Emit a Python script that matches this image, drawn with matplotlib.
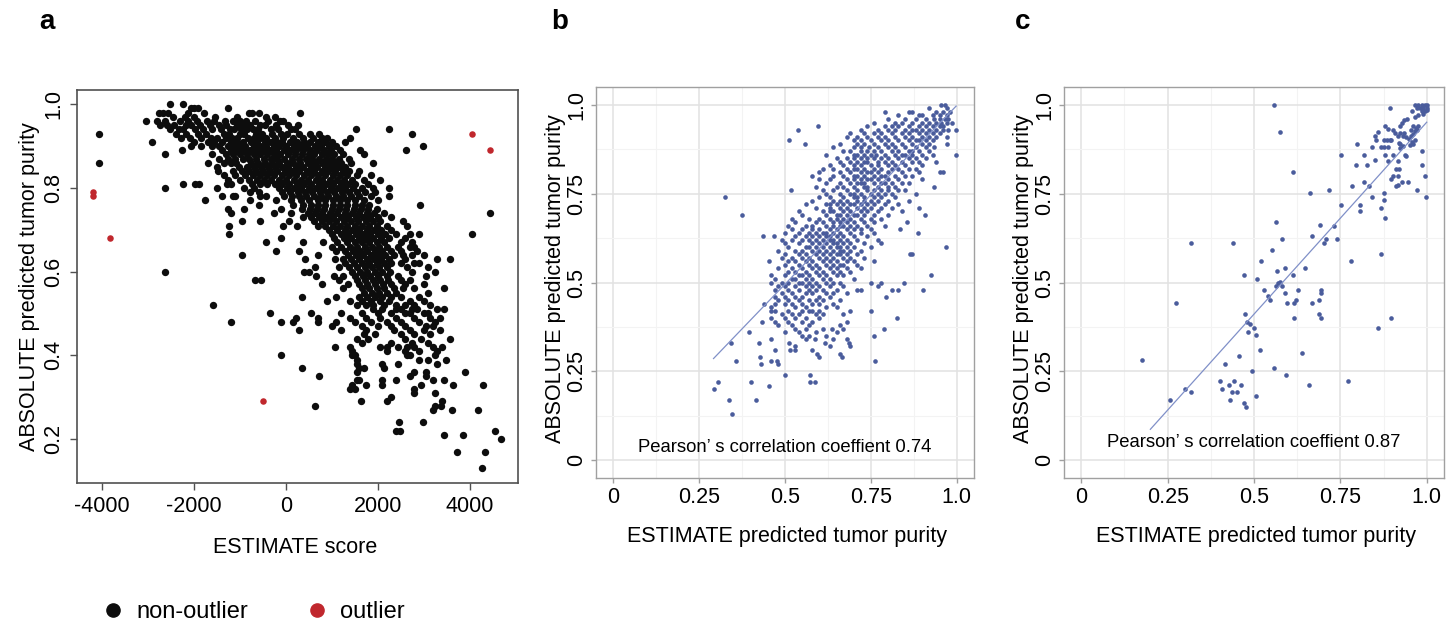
import matplotlib
matplotlib.use('Agg')
import matplotlib.pyplot as plt
from matplotlib.lines import Line2D

plt.rcParams['font.family'] = ['Liberation Sans', 'DejaVu Sans']
plt.rcParams['axes.unicode_minus'] = False

# ---- panel a: ESTIMATE score vs ABSOLUTE purity (one row per purity level)
a_rows = [
    (1.00, [-2510, -2240]),
    (0.99, [-2060, -1990, -1900, -1250]),
    (0.98, [-2750, -2680, -2560, -2120, -1780, -800, -740, -580, 320]),
    (0.97, [-2450, -2200, -1990, -1530, -1060, -430, -240]),
    (0.96, [-3030, -2800, -2620, -2300, -2120, -1920, -1720, -1550, -1330, -1150, -990, -860, -660, -380, -130, -60]),
    (0.95, [-2740, -2590, -2420, -2180, -2050, -1860, -1650, -1460, -1290, -1050, -930, -770, -560, -450, -210, 60, 270]),
    (0.94, [-2520, -2330, -2230, -1970, -1800, -1600, -1400, -1220, -1120, -980, -840, -720, -600, -320, -170, 120, 200, 1540, 2250]),
    (0.93, [-4070, -2380, -2160, -1900, -1740, -1350, -1230, -1000, -900, -640, -520, -300, -100, 30, 290, 530, 720, 2745]),
    (0.92, [-2270, -2090, -1850, -1620, -1490, -1300, -1170, -1050, -820, -690, -550, -420, -230, -50, 150, 380, 600, 780, 900, 1400]),
    (0.91, [-2905, -1990, -1700, -1560, -1380, -1200, -1060, -930, -750, -620, -450, -330, -180, -80, 100, 250, 400, 520, 700, 850, 1000, 1300]),
    (0.90, [-2070, -1850, -1600, -1450, -1250, -1100, -980, -880, -700, -560, -420, -260, -150, 10, 180, 320, 460, 640, 760, 940, 1100, 2980]),
    (0.89, [-2260, -1380, -1200, -1050, -900, -780, -620, -480, -350, -200, -40, 100, 230, 380, 520, 680, 830, 990, 1180, 1620, 2610]),
    (0.88, [-2620, -1600, -1300, -1150, -1000, -850, -700, -560, -400, -260, -120, 40, 200, 350, 500, 610, 780, 920, 1050, 1250, 1700]),
    (0.87, [-1450, -1250, -1100, -930, -800, -640, -480, -330, -180, -30, 130, 280, 450, 580, 730, 880, 1000, 1150, 1380]),
    (0.86, [-4070, -1700, -1350, -1200, -1080, -760, -610, -460, -300, -150, 20, 160, 320, 480, 640, 790, 950, 1100, 1200, 1420, 1900]),
    (0.85, [-1500, -1020, -850, -690, -540, -380, -240, -90, 60, 220, 380, 540, 690, 850, 1010, 1160, 1300]),
    (0.84, [-1480, -1150, -960, -800, -650, -500, -340, -180, -20, 140, 300, 460, 620, 780, 930, 1080, 1250, 1380, 1600]),
    (0.83, [-1350, -1100, -880, -720, -560, -400, -250, -90, 70, 230, 390, 550, 700, 860, 1020, 1180, 1330, 1550, 1850]),
    (0.82, [-1250, -1000, -800, -620, -470, -310, -150, 0, 170, 330, 490, 650, 800, 960, 1110, 1260, 1450, 1700, 2050]),
    (0.81, [-2240, -1965, -1880, -1270, -1180, -740, -560, -400, -240, -80, 80, 240, 400, 560, 720, 880, 1040, 1200, 1350, 1500, 1800]),
    (0.80, [-2620, -1500, -900, -700, -150, 20, 180, 340, 500, 660, 820, 980, 1140, 1300, 1460, 1650, 1900, 2250]),
    (0.79, [-780, -580, -90, 100, 260, 420, 580, 740, 900, 1060, 1220, 1380, 1560, 1720, 1950]),
    (0.78, [-1390, -1150, -1100, -550, -420, -40, 130, 290, 450, 610, 770, 930, 1090, 1250, 1420, 1600, 1850, 2250]),
    (0.77, [-1760, -780, -220, 120, 330, 500, 700, 860, 1020, 1180, 1340, 1500, 1700, 2000]),
    (0.76, [-580, 160, 380, 540, 700, 860, 1020, 1180, 1340, 1500, 1660, 1820, 2925]),
    (0.75, [-1250, -900, -100, 350, 520, 680, 840, 1000, 1160, 1320, 1480, 1640, 1800, 1980]),
    (0.74, [-1200, -250, 120, 480, 640, 800, 960, 1120, 1280, 1440, 1600, 1760, 1920, 2150, 4455]),
    (0.73, [380, 550, 720, 880, 1040, 1200, 1360, 1520, 1680, 1840, 2000, 2300]),
    (0.72, [-940, -560, 80, 620, 780, 940, 1100, 1260, 1420, 1580, 1740, 1900, 2050, 2550]),
    (0.71, [-1230, -50, 250, 700, 860, 1020, 1180, 1340, 1500, 1660, 1820, 1980, 2200, 2650]),
    (0.70, [950, 1120, 1280, 1440, 1600, 1760, 1920, 2080, 2300]),
    (0.69, [-1230, 1000, 1200, 1360, 1520, 1680, 1840, 2000, 2160, 2400, 2700, 2900, 4050]),
    (0.68, [-110, 1050, 1270, 1430, 1590, 1750, 1910, 2070, 2250, 2600]),
    (0.67, [-430, 380, 820, 1120, 1340, 1500, 1660, 1820, 1980, 2140, 2500, 2750]),
    (0.66, [1000, 1200, 1400, 1560, 1720, 1880, 2040, 2200, 2450, 2700, 2800]),
    (0.65, [-200, 300, 1100, 1300, 1460, 1620, 1780, 1940, 2100, 2300, 2500, 2850]),
    (0.64, [-940, 700, 1350, 1530, 1690, 1850, 2010, 2170, 2350, 2550, 2750, 3000]),
    (0.63, [420, 1080, 1250, 1420, 1600, 1760, 1920, 2080, 2240, 2600, 3300, 3565]),
    (0.62, [1300, 1480, 1660, 1820, 1980, 2140, 2300, 2500, 2800, 2900]),
    (0.61, [630, 1150, 1380, 1560, 1720, 1880, 2040, 2200, 2650, 3100]),
    (0.60, [-2620, 400, 500, 1440, 1620, 1780, 1940, 2100, 2280, 2750, 3250]),
    (0.59, [650, 1050, 1250, 1500, 1680, 1840, 2000, 2200, 2450, 3050]),
    (0.58, [-670, -535, 1150, 1550, 1730, 1890, 2050, 2230, 2500, 2700]),
    (0.57, [800, 1350, 1600, 1780, 1950, 2120, 2300, 2600, 3000]),
    (0.56, [1250, 1650, 1820, 1990, 2150, 2350, 2550, 2800, 3450]),
    (0.55, [1700, 1870, 2040, 2200, 2400, 3100]),
    (0.54, [360, 1100, 1600, 1780, 1950, 2100, 2300, 2500, 2900]),
    (0.53, [900, 1400, 1650, 1850, 2050, 2250, 2700, 3000]),
    (0.52, [-1585, 1550, 1750, 1900, 2150, 2400, 2600, 2800, 3150]),
    (0.51, [1900, 2100, 2400, 2500, 2750, 2850, 3300, 3450]),
    (0.50, [-350, 560, 1200, 1650, 2000, 2300, 2600, 2700, 3000, 3100]),
    (0.49, [235, 700, 1400, 1750, 2050, 2400, 2800, 3150, 3350]),
    (0.48, [-1190, -110, 155, 700, 1100, 1500, 1850, 2200, 2500, 2900, 3250]),
    (0.47, [1000, 1650, 2000, 2300, 2600, 3050, 3200]),
    (0.46, [285, 1200, 1750, 2350, 2700, 3000, 3350]),
    (0.45, [1700, 1950, 2500, 2800, 3150]),
    (0.44, [1550, 1800, 2600, 2950, 3565]),
    (0.43, [1650, 2300, 2750, 3100]),
    (0.42, [1080, 1400, 2050, 2200, 2450, 2650, 2800, 3200, 3400]),
    (0.41, [1450, 2200, 2600, 2900, 3300]),
    (0.40, [-110, 1450, 1500, 2650, 2700, 3250]),
    (0.39, [1550, 2900, 3100, 3480]),
    (0.38, [1550, 2100, 2450, 3300]),
    (0.37, [360, 1600, 1700, 2150]),
    (0.36, [1550, 2800, 3050, 3905]),
    (0.35, [735, 2700, 3050]),
    (0.34, [1550, 1600, 2100, 2400, 3200, 3450]),
    (0.33, [1450, 1750, 2100, 2950, 3650, 4300]),
    (0.32, [1400, 1500, 2800]),
    (0.31, [2800, 3250]),
    (0.30, [2290]),
    (0.29, [1645, 2215, 3400]),
    (0.28, [640, 3240, 3390]),
    (0.27, [3200, 3610, 4195]),
    (0.24, [2460, 2995]),
    (0.22, [2390, 2480, 4565]),
    (0.21, [3450, 3860]),
    (0.20, [4695]),
    (0.17, [3735, 4345]),
    (0.13, [4270]),
]
a_out_score = [-4200, -4200, -3815, -485, 4050, 4455]
a_out_purity = [0.79, 0.78, 0.68, 0.29, 0.93, 0.89]

# ---- panel b: ESTIMATE purity vs ABSOLUTE purity (rows by ABSOLUTE purity)
b_rows = [
    (1.00, [0.955, 0.965]),
    (0.99, [0.92, 0.97]),
    (0.98, [0.79, 0.86, 0.87, 0.94, 0.96, 0.98]),
    (0.97, [0.83, 0.89, 0.90, 0.93, 0.95, 0.97]),
    (0.96, [0.80, 0.85, 0.88, 0.91, 0.935, 0.95, 0.965, 0.975]),
    (0.95, [0.76, 0.82, 0.84, 0.87, 0.90, 0.92, 0.94, 0.955, 0.97, 0.985]),
    (0.94, [0.597, 0.74, 0.79, 0.81, 0.83, 0.86, 0.89, 0.91, 0.93, 0.95, 0.96]),
    (0.93, [0.539, 0.72, 0.77, 0.80, 0.82, 0.85, 0.87, 0.88, 0.90, 0.92, 0.94, 0.96, 0.975, 0.998]),
    (0.92, [0.69, 0.73, 0.76, 0.78, 0.81, 0.84, 0.86, 0.89, 0.91, 0.93, 0.95]),
    (0.91, [0.68, 0.71, 0.74, 0.77, 0.79, 0.82, 0.85, 0.87, 0.90, 0.92, 0.94, 0.97]),
    (0.90, [0.513, 0.70, 0.72, 0.75, 0.78, 0.80, 0.83, 0.86, 0.88, 0.89, 0.91, 0.93]),
    (0.89, [0.557, 0.66, 0.71, 0.73, 0.76, 0.79, 0.81, 0.84, 0.87, 0.90, 0.92, 0.97]),
    (0.88, [0.64, 0.70, 0.72, 0.745, 0.77, 0.80, 0.82, 0.85, 0.88, 0.91, 0.935]),
    (0.87, [0.67, 0.69, 0.72, 0.74, 0.76, 0.78, 0.81, 0.83, 0.86, 0.87, 0.89, 0.92]),
    (0.86, [0.62, 0.70, 0.71, 0.73, 0.75, 0.765, 0.79, 0.82, 0.84, 0.85, 0.87, 0.90, 0.93, 0.998]),
    (0.85, [0.65, 0.68, 0.70, 0.72, 0.74, 0.76, 0.78, 0.80, 0.83, 0.86, 0.88, 0.91]),
    (0.84, [0.66, 0.69, 0.71, 0.73, 0.74, 0.77, 0.79, 0.81, 0.84, 0.87, 0.89, 0.94]),
    (0.83, [0.63, 0.67, 0.70, 0.72, 0.75, 0.77, 0.80, 0.82, 0.85, 0.90]),
    (0.82, [0.61, 0.64, 0.68, 0.70, 0.71, 0.73, 0.76, 0.78, 0.81, 0.83, 0.86, 0.88]),
    (0.81, [0.60, 0.66, 0.69, 0.72, 0.74, 0.75, 0.77, 0.80, 0.84, 0.89, 0.95, 0.96]),
    (0.80, [0.58, 0.64, 0.67, 0.70, 0.71, 0.73, 0.76, 0.78, 0.79, 0.82, 0.85, 0.87]),
    (0.79, [0.60, 0.63, 0.68, 0.70, 0.72, 0.74, 0.75, 0.77, 0.80, 0.83, 0.90]),
    (0.78, [0.62, 0.66, 0.69, 0.71, 0.72, 0.73, 0.76, 0.78, 0.79, 0.81, 0.84, 0.86]),
    (0.77, [0.59, 0.65, 0.67, 0.70, 0.73, 0.74, 0.77, 0.80, 0.82, 0.935]),
    (0.76, [0.517, 0.61, 0.64, 0.68, 0.71, 0.74, 0.76, 0.78, 0.80, 0.83, 0.85]),
    (0.75, [0.62, 0.66, 0.69, 0.70, 0.72, 0.75, 0.77, 0.79, 0.81, 0.88]),
    (0.74, [0.324, 0.60, 0.63, 0.67, 0.70, 0.71, 0.73, 0.76, 0.78, 0.82]),
    (0.73, [0.58, 0.64, 0.66, 0.68, 0.71, 0.73, 0.75, 0.77, 0.80, 0.86]),
    (0.72, [0.56, 0.62, 0.63, 0.65, 0.67, 0.69, 0.70, 0.72, 0.74, 0.76, 0.79, 0.83]),
    (0.71, [0.59, 0.63, 0.66, 0.68, 0.71, 0.73, 0.75, 0.78, 0.81, 0.89]),
    (0.70, [0.54, 0.61, 0.63, 0.64, 0.67, 0.69, 0.72, 0.74, 0.77, 0.84]),
    (0.69, [0.374, 0.55, 0.62, 0.65, 0.66, 0.68, 0.70, 0.71, 0.73, 0.76, 0.80, 0.908]),
    (0.68, [0.52, 0.57, 0.60, 0.63, 0.65, 0.67, 0.69, 0.72, 0.75, 0.78]),
    (0.67, [0.53, 0.59, 0.61, 0.64, 0.66, 0.68, 0.70, 0.73, 0.76, 0.855]),
    (0.66, [0.51, 0.56, 0.58, 0.62, 0.64, 0.66, 0.67, 0.69, 0.71, 0.74, 0.79]),
    (0.65, [0.52, 0.55, 0.58, 0.60, 0.63, 0.65, 0.68, 0.70, 0.72, 0.75, 0.836]),
    (0.64, [0.50, 0.54, 0.57, 0.59, 0.61, 0.62, 0.64, 0.66, 0.69, 0.72, 0.76, 0.887]),
    (0.63, [0.435, 0.467, 0.53, 0.56, 0.58, 0.60, 0.62, 0.63, 0.65, 0.67, 0.70, 0.74]),
    (0.62, [0.49, 0.52, 0.55, 0.57, 0.59, 0.61, 0.63, 0.64, 0.66, 0.68, 0.71, 0.77]),
    (0.61, [0.50, 0.54, 0.58, 0.60, 0.62, 0.64, 0.65, 0.67, 0.69, 0.73, 0.78]),
    (0.60, [0.51, 0.56, 0.57, 0.59, 0.61, 0.63, 0.65, 0.66, 0.68, 0.70, 0.75, 0.969]),
    (0.59, [0.48, 0.53, 0.55, 0.58, 0.60, 0.62, 0.64, 0.66, 0.67, 0.69, 0.72]),
    (0.58, [0.50, 0.54, 0.56, 0.59, 0.61, 0.63, 0.65, 0.66, 0.68, 0.71, 0.864, 0.869]),
    (0.57, [0.49, 0.52, 0.55, 0.57, 0.60, 0.62, 0.64, 0.67, 0.69, 0.73]),
    (0.56, [0.453, 0.51, 0.53, 0.56, 0.58, 0.61, 0.63, 0.65, 0.68, 0.70, 0.76]),
    (0.55, [0.50, 0.54, 0.57, 0.59, 0.62, 0.64, 0.66, 0.67, 0.71]),
    (0.54, [0.48, 0.52, 0.55, 0.58, 0.60, 0.63, 0.65, 0.68, 0.72]),
    (0.53, [0.51, 0.53, 0.56, 0.59, 0.61, 0.64, 0.66, 0.69]),
    (0.52, [0.46, 0.50, 0.54, 0.55, 0.57, 0.60, 0.62, 0.65, 0.67, 0.924]),
    (0.51, [0.47, 0.52, 0.53, 0.56, 0.58, 0.61, 0.63, 0.70]),
    (0.50, [0.46, 0.49, 0.51, 0.54, 0.55, 0.57, 0.59, 0.62, 0.64, 0.66, 0.75, 0.78, 0.845]),
    (0.49, [0.48, 0.50, 0.53, 0.56, 0.58, 0.60, 0.63, 0.67, 0.77]),
    (0.48, [0.47, 0.51, 0.54, 0.57, 0.59, 0.61, 0.65, 0.71, 0.72, 0.81, 0.83, 0.903]),
    (0.47, [0.49, 0.52, 0.56, 0.58, 0.62, 0.64, 0.68]),
    (0.46, [0.47, 0.50, 0.53, 0.55, 0.60, 0.63, 0.795]),
    (0.45, [0.48, 0.51, 0.54, 0.57, 0.59, 0.61, 0.66]),
    (0.44, [0.44, 0.47, 0.50, 0.52, 0.55, 0.58, 0.60, 0.64]),
    (0.43, [0.46, 0.53, 0.56, 0.62, 0.65]),
    (0.42, [0.46, 0.47, 0.51, 0.55, 0.57, 0.58, 0.60, 0.69, 0.75]),
    (0.41, [0.49, 0.52, 0.54, 0.59, 0.61, 0.67]),
    (0.40, [0.46, 0.50, 0.53, 0.56, 0.60, 0.825]),
    (0.39, [0.433, 0.47, 0.51, 0.55, 0.58, 0.68]),
    (0.38, [0.48, 0.52, 0.57, 0.66]),
    (0.37, [0.53, 0.56, 0.61, 0.636, 0.67, 0.789]),
    (0.36, [0.396, 0.50, 0.54, 0.59, 0.65]),
    (0.35, [0.55, 0.57, 0.62, 0.758]),
    (0.34, [0.46, 0.56, 0.586, 0.64, 0.68]),
    (0.33, [0.342, 0.424, 0.513, 0.617, 0.685]),
    (0.32, [0.53, 0.63, 0.69]),
    (0.31, [0.47, 0.515, 0.53, 0.58]),
    (0.30, [0.593, 0.66]),
    (0.29, [0.428, 0.60, 0.666]),
    (0.28, [0.357, 0.46, 0.478, 0.762]),
    (0.27, [0.43, 0.481]),
    (0.24, [0.501, 0.573]),
    (0.22, [0.304, 0.401, 0.573, 0.586]),
    (0.21, [0.452]),
    (0.20, [0.292]),
    (0.17, [0.338, 0.415]),
    (0.13, [0.345]),
]
b_fit = (1.006, -0.0077)   # slope, intercept of the drawn line
b_r = '0.74'

# ---- panel c: (ESTIMATE purity, ABSOLUTE purity)
c_points = [
    (0.559, 1.00), (0.574, 0.922), (0.614, 0.810), (0.661, 0.751), (0.716, 0.761), (0.751, 0.860),
    (0.753, 0.719), (0.733, 0.660), (0.739, 0.623), (0.709, 0.621), (0.704, 0.611), (0.692, 0.661),
    (0.668, 0.630), (0.565, 0.671), (0.582, 0.623), (0.440, 0.611), (0.317, 0.611), (0.274, 0.441),
    (0.176, 0.281), (0.256, 0.170), (0.301, 0.201), (0.318, 0.192),
    (0.552, 0.591), (0.520, 0.560), (0.471, 0.521), (0.510, 0.511), (0.568, 0.532), (0.589, 0.541),
    (0.612, 0.521), (0.648, 0.541), (0.574, 0.502), (0.570, 0.498), (0.563, 0.490), (0.580, 0.490),
    (0.530, 0.480), (0.540, 0.462), (0.545, 0.452), (0.589, 0.471), (0.627, 0.480), (0.623, 0.452),
    (0.617, 0.441), (0.595, 0.441), (0.616, 0.400), (0.667, 0.441), (0.688, 0.452), (0.693, 0.471),
    (0.695, 0.480), (0.688, 0.411), (0.693, 0.400),
    (0.474, 0.411), (0.480, 0.390), (0.488, 0.382), (0.483, 0.361), (0.499, 0.373), (0.505, 0.352),
    (0.518, 0.309), (0.457, 0.293), (0.416, 0.272), (0.493, 0.250), (0.558, 0.260), (0.593, 0.241),
    (0.638, 0.302), (0.659, 0.213), (0.772, 0.222), (0.403, 0.222), (0.408, 0.201), (0.429, 0.213),
    (0.442, 0.222), (0.461, 0.213), (0.437, 0.192), (0.452, 0.192), (0.430, 0.170), (0.470, 0.162),
    (0.478, 0.150), (0.507, 0.181),
    (0.898, 0.400), (0.859, 0.373), (0.867, 0.581), (0.782, 0.560), (0.806, 0.719), (0.806, 0.702),
    (0.784, 0.771), (0.819, 0.782), (0.796, 0.831), (0.799, 0.890), (0.818, 0.860), (0.827, 0.831),
    (0.833, 0.771), (0.842, 0.741), (0.842, 0.880), (0.851, 0.844), (0.850, 0.911), (0.854, 0.902),
    (0.859, 0.922), (0.877, 0.752), (0.877, 0.731), (0.869, 0.710), (0.879, 0.682),
    (0.877, 0.902), (0.884, 0.902), (0.893, 0.902), (0.898, 0.902), (0.879, 0.939), (0.889, 0.932),
    (0.867, 0.880), (0.877, 0.880), (0.889, 0.880), (0.893, 0.991), (0.879, 0.860), (0.887, 0.842),
    (0.898, 0.791), (0.903, 0.799), (0.903, 0.860), (0.903, 0.930), (0.908, 0.920), (0.916, 0.911),
    (0.922, 0.939), (0.927, 0.948), (0.934, 0.958), (0.944, 0.961), (0.922, 0.890), (0.922, 0.878),
    (0.918, 0.841), (0.912, 0.819), (0.919, 0.819), (0.918, 0.799), (0.912, 0.771), (0.918, 0.775),
    (0.927, 0.782), (0.947, 0.782), (0.937, 0.860), (0.941, 0.855),
    (0.930, 0.912), (0.940, 0.910), (0.950, 0.905), (0.955, 0.912), (0.960, 0.918), (0.965, 0.925),
    (0.955, 0.930), (0.960, 0.940), (0.970, 0.935), (0.921, 0.893), (0.931, 0.885), (0.924, 0.920),
    (0.934, 0.920), (0.956, 0.983), (0.966, 1.000), (0.976, 1.000), (0.985, 1.000), (0.995, 1.000),
    (1.000, 1.000), (0.971, 0.991), (0.981, 0.991), (0.990, 0.991), (1.000, 0.991), (0.985, 0.982),
    (0.995, 0.982), (1.000, 0.985), (0.990, 0.975), (0.975, 0.970), (0.965, 0.965),
    (0.985, 0.869), (0.987, 0.831), (0.995, 0.800), (0.998, 0.741), (0.971, 0.761), (0.961, 0.890),
    (0.971, 0.930), (0.976, 0.939), (0.965, 0.901), (0.958, 0.895), (0.951, 0.888),
]
c_fit = (1.08, -0.129)
c_line_from = 0.20   # the fitted line starts here in the figure
c_r = '0.87'

purity_ticks = [0, 0.25, 0.5, 0.75, 1.0]
purity_labels = ['0', '0.25', '0.5', '0.75', '1.0']
score_ticks = [-4000, -2000, 0, 2000, 4000]
abs_ticks = [0.2, 0.4, 0.6, 0.8, 1.0]

BLUE = '#4a5c9c'
LINE = '#8090c8'

a_score = [s for p, xs in a_rows for s in xs]
a_purity = [p for p, xs in a_rows for s in xs]
b_est = [x for p, xs in b_rows for x in xs]
b_abs = [p for p, xs in b_rows for x in xs]
c_est = [p[0] for p in c_points]
c_abs = [p[1] for p in c_points]

W, H = 1446, 623
fig = plt.figure(figsize=(W / 100, H / 100), dpi=100)


def box(l, t, r, b):
    return [l / W, 1 - b / H, (r - l) / W, (b - t) / H]


# ---------- a
ax = fig.add_axes(box(77, 90, 518, 483))
ax.scatter(a_score, a_purity, s=28, c='#0d0d0d', linewidths=0)
ax.scatter(a_out_score, a_out_purity, s=22, c='#c0272d', linewidths=0)
ax.set_xlim(-4541, 5055)
ax.set_ylim(0.095, 1.034)
ax.set_xticks(score_ticks)
ax.set_yticks(abs_ticks)
ax.set_yticklabels(['0.2', '0.4', '0.6', '0.8', '1.0'])
for sp in ax.spines.values():
    sp.set_color('#505050')
    sp.set_linewidth(1.2)
ax.tick_params(length=5, width=1, color='#505050', labelsize=15.5, pad=4)
for lab in ax.get_yticklabels():
    lab.set_rotation(90)
    lab.set_va('center')
ax.set_xlabel('ESTIMATE score', fontsize=15.5)
ax.set_ylabel('ABSOLUTE predicted tumor purity', fontsize=15.5)
ax.xaxis.set_label_coords(0.495, -0.163)
ax.xaxis.label.set_va('center')
ax.yaxis.set_label_coords(-0.108, 0.5)
ax.yaxis.label.set_va('center')

handles = [Line2D([], [], ls='none', marker='o', ms=9.5, color='#0d0d0d', label='non-outlier'),
           Line2D([], [], ls='none', marker='o', ms=9.5, color='#c0272d', label='outlier')]
fig.legend(handles=handles, loc='center left', bbox_to_anchor=(101 / W, 1 - 612 / H), ncol=2,
           frameon=False, fontsize=17, handlelength=1.0, handletextpad=0.5, columnspacing=2.4,
           borderpad=0, borderaxespad=0)


# ---------- b, c
def gg_panel(rect, xs, ys, fit, x_start):
    ax = fig.add_axes(rect)
    ax.set_axisbelow(True)
    ax.set_xlim(-0.05, 1.05)
    ax.set_ylim(-0.05, 1.05)
    ax.set_xticks(purity_ticks)
    ax.set_xticklabels(purity_labels)
    ax.set_yticks(purity_ticks)
    ax.set_yticklabels(purity_labels)
    ax.set_xticks([0.125, 0.375, 0.625, 0.875], minor=True)
    ax.set_yticks([0.125, 0.375, 0.625, 0.875], minor=True)
    ax.grid(which='major', color='#e2e2e2', lw=1.1)
    ax.grid(which='minor', color='#f3f3f3', lw=0.8)
    for sp in ax.spines.values():
        sp.set_color('#a0a0a0')
        sp.set_linewidth(1.0)
    ax.tick_params(which='major', length=3.5, width=1, color='#a0a0a0', labelsize=15.5, pad=3)
    ax.tick_params(which='minor', length=0)
    for lab in ax.get_yticklabels():
        lab.set_rotation(90)
        lab.set_va('center')
    ax.scatter(xs, ys, s=11, c=BLUE, linewidths=0, zorder=3)
    x0, x1 = x_start, max(xs)
    ax.plot([x0, x1], [fit[0] * x0 + fit[1], fit[0] * x1 + fit[1]], color=LINE, lw=0.9, zorder=4)
    ax.set_xlabel('ESTIMATE predicted tumor purity', fontsize=15.5)
    ax.set_ylabel('ABSOLUTE predicted tumor purity', fontsize=15.5)
    ax.xaxis.set_label_coords(0.505, -0.150)
    ax.xaxis.label.set_va('center')
    ax.yaxis.set_label_coords(-0.106, 0.51)
    ax.yaxis.label.set_va('center')
    return ax


axb = gg_panel(box(596, 87, 974, 478), b_est, b_abs, b_fit, min(b_est))
axb.text(0.5, 0.037, 'Pearson\u2019 s correlation coeffient ' + b_r, fontsize=13.3, ha='center', va='center')
axc = gg_panel(box(1064, 87, 1444, 478), c_est, c_abs, c_fit, c_line_from)
axc.text(0.5, 0.05, 'Pearson\u2019 s correlation coeffient ' + c_r, fontsize=13.3, ha='center', va='center')

for letter, x, y in [('a', 47, 22), ('b', 560, 22), ('c', 1023, 22)]:
    fig.text(x / W, 1 - y / H, letter, fontsize=20, fontweight='bold', ha='center', va='center')

fig.savefig('out.png', dpi=100)
